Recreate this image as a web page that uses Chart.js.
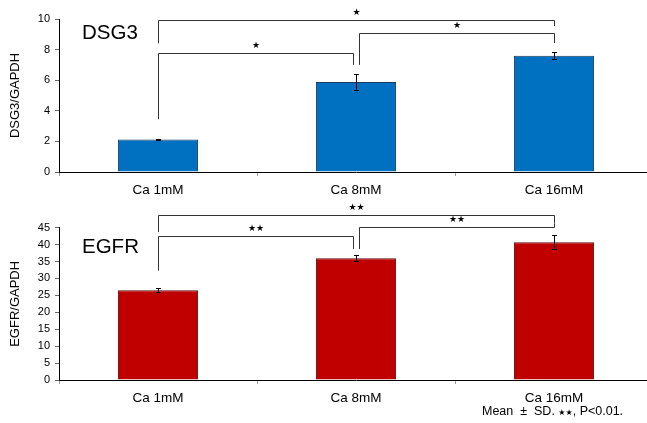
<!DOCTYPE html>
<html lang="en">
<head>
  <meta charset="UTF-8" />
  <title>DSG3 / EGFR</title>
  <script src="https://cdn.jsdelivr.net/npm/chart.js"></script>
  <style>
    html, body { margin: 0; padding: 0; background: #fff; overflow: hidden; width: 647px; height: 423px; }
    #wrap { position: relative; width: 647px; height: 423px; overflow: hidden; }
    canvas { position: absolute; left: 0; }
    #top { top: 0; }
    #bottom { top: 200px; }
    .note { position: absolute; left: 482px; top: 404px; font: 12.5px "Liberation Sans", Arial, sans-serif; color: #000; white-space: nowrap; }
    .note .st { font-size: 8px; font-family: "DejaVu Sans", sans-serif; }
  </style>
</head>
<body>
  <div id="wrap">
    <canvas id="top" width="660" height="200"></canvas>
    <canvas id="bottom" width="660" height="223"></canvas>
    <div class="note">Mean &nbsp;±&nbsp; SD. <span class="st">★★</span>, P&lt;0.01.</div>
  </div>

  <script>
    // values
    const categories = ['Ca 1mM', 'Ca 8mM', 'Ca 16mM'];

    const dsg3Values = [2.13, 5.88, 7.6];
    const dsg3Errors = [0.03, 0.5, 0.24];
    const dsg3Ticks = [0, 2, 4, 6, 8, 10];

    const egfrValues = [26.5, 36.0, 40.7];
    const egfrErrors = [0.6, 0.8, 2.1];
    const egfrTicks = [0, 5, 10, 15, 20, 25, 30, 35, 40, 45];

    // significance brackets: category pairs, bar level, leg ends (data units)
    const dsg3Pairs = [[0, 1], [1, 2], [0, 2]];
    const dsg3Levels = [7.8, 9.1, 9.93];
    const dsg3LegEnds = [[3.45, 7.0], [7.0, 8.43], [8.41, 9.54]];
    const dsg3Marks = ['★', '★', '★'];

    const egfrPairs = [[0, 1], [1, 2], [0, 2]];
    const egfrLevels = [42.5, 45.1, 48.8];
    const egfrLegEnds = [[32.3, 38.7], [38.7, 46.3], [43.7, 46.4]];
    const egfrMarks = ['★★', '★★', '★★'];

    Chart.defaults.font.family = '"Liberation Sans", Arial, sans-serif';
    Chart.defaults.color = '#000';

    const errorBars = {
      id: 'errorBars',
      afterDatasetsDraw(chart, args, opts) {
        const { ctx, scales: { y } } = chart;
        const meta = chart.getDatasetMeta(0);
        ctx.save();
        ctx.strokeStyle = '#000';
        ctx.lineWidth = 1;
        meta.data.forEach((bar, i) => {
          const v = chart.data.datasets[0].data[i];
          const e = opts.errors[i];
          const x = Math.round(bar.x) + 0.5;
          const y1 = y.getPixelForValue(v + e);
          const y2 = y.getPixelForValue(v - e);
          ctx.beginPath();
          ctx.moveTo(x, y1); ctx.lineTo(x, y2);
          ctx.moveTo(x - 2.5, Math.round(y1) + 0.5); ctx.lineTo(x + 2.5, Math.round(y1) + 0.5);
          ctx.moveTo(x - 2.5, Math.round(y2) + 0.5); ctx.lineTo(x + 2.5, Math.round(y2) + 0.5);
          ctx.stroke();
        });
        ctx.restore();
      }
    };

    const brackets = {
      id: 'brackets',
      afterDatasetsDraw(chart, args, opts) {
        const { ctx, scales: { x, y } } = chart;
        ctx.save();
        ctx.strokeStyle = '#333';
        ctx.lineWidth = 1;
        ctx.fillStyle = '#000';
        ctx.font = opts.markFont;
        ctx.textAlign = 'center';
        ctx.textBaseline = 'middle';
        opts.pairs.forEach((p, i) => {
          // legs that meet over the middle bar sit a little apart
          const x1 = Math.round(x.getPixelForValue(p[0]) + (p[0] === 1 ? 3 : 0)) + 0.5;
          const x2 = Math.round(x.getPixelForValue(p[1]) - (p[1] === 1 ? 3 : 0)) + 0.5;
          const yl = Math.round(y.getPixelForValue(opts.levels[i])) + 0.5;
          ctx.beginPath();
          ctx.moveTo(x1, y.getPixelForValue(opts.legEnds[i][0]));
          ctx.lineTo(x1, yl);
          ctx.lineTo(x2, yl);
          ctx.lineTo(x2, y.getPixelForValue(opts.legEnds[i][1]));
          ctx.stroke();
          ctx.fillText(opts.marks[i], (x1 + x2) / 2, yl - 8);
        });
        ctx.restore();
      }
    };

    const panelTitle = {
      id: 'panelTitle',
      afterDraw(chart, args, opts) {
        const { ctx, chartArea } = chart;
        ctx.save();
        ctx.fillStyle = '#000';
        ctx.font = '20.5px "Liberation Sans", Arial, sans-serif';
        ctx.textBaseline = 'alphabetic';
        ctx.fillText(opts.text, chartArea.left + 23, chartArea.top + opts.dy);
        ctx.restore();
      }
    };

    function makeChart(id, o) {
      return new Chart(document.getElementById(id), {
        type: 'bar',
        data: {
          labels: categories,
          datasets: [{
            data: o.values,
            backgroundColor: o.color,
            borderColor: o.border,
            borderWidth: 1,
            borderSkipped: 'bottom',
            categoryPercentage: 1,
            barPercentage: 0.405
          }]
        },
        options: {
          responsive: false,
          animation: false,
          layout: { padding: { top: o.padTop, right: 7, left: 0, bottom: 0 } },
          plugins: {
            legend: { display: false },
            tooltip: { enabled: false },
            errorBars: { errors: o.errors },
            brackets: { pairs: o.pairs, levels: o.levels, legEnds: o.legEnds, marks: o.marks, markFont: o.markFont },
            panelTitle: { text: o.title, dy: o.titleDy }
          },
          scales: {
            x: {
              afterFit: s => { s.height = o.xHeight; },
              border: { color: '#000', width: 1 },
              grid: { drawOnChartArea: false, drawTicks: true, tickLength: 4, color: '#999', offset: true },
              ticks: { font: { size: 13.5 }, padding: 6, color: '#000' }
            },
            y: {
              min: 0,
              max: o.ticks[o.ticks.length - 1],
              afterFit: s => { s.width = 59; },
              afterBuildTicks: s => { s.ticks = o.ticks.map(v => ({ value: v })); },
              border: { color: '#000', width: 1 },
              grid: { drawOnChartArea: false, drawTicks: true, tickLength: 4, color: '#666' },
              ticks: { font: { size: 11 }, padding: 5, color: '#000' },
              title: { display: true, text: o.yTitle, font: { size: 13 }, padding: { top: 8, bottom: 0 }, color: '#000' }
            }
          }
        },
        plugins: [errorBars, brackets, panelTitle]
      });
    }

    makeChart('top', {
      values: dsg3Values, errors: dsg3Errors, ticks: dsg3Ticks,
      pairs: dsg3Pairs, levels: dsg3Levels, legEnds: dsg3LegEnds, marks: dsg3Marks,
      color: '#0070C0', border: '#1a3a5e', title: 'DSG3', titleDy: 20,
      yTitle: 'DSG3/GAPDH', padTop: 19, xHeight: 28, markFont: '9px "DejaVu Sans", sans-serif'
    });

    makeChart('bottom', {
      values: egfrValues, errors: egfrErrors, ticks: egfrTicks,
      pairs: egfrPairs, levels: egfrLevels, legEnds: egfrLegEnds, marks: egfrMarks,
      color: '#C00000', border: '#5e0a0a', title: 'EGFR', titleDy: 25,
      yTitle: 'EGFR/GAPDH', padTop: 27.7, xHeight: 43, markFont: '9px "DejaVu Sans", sans-serif'
    });
  </script>
</body>
</html>
